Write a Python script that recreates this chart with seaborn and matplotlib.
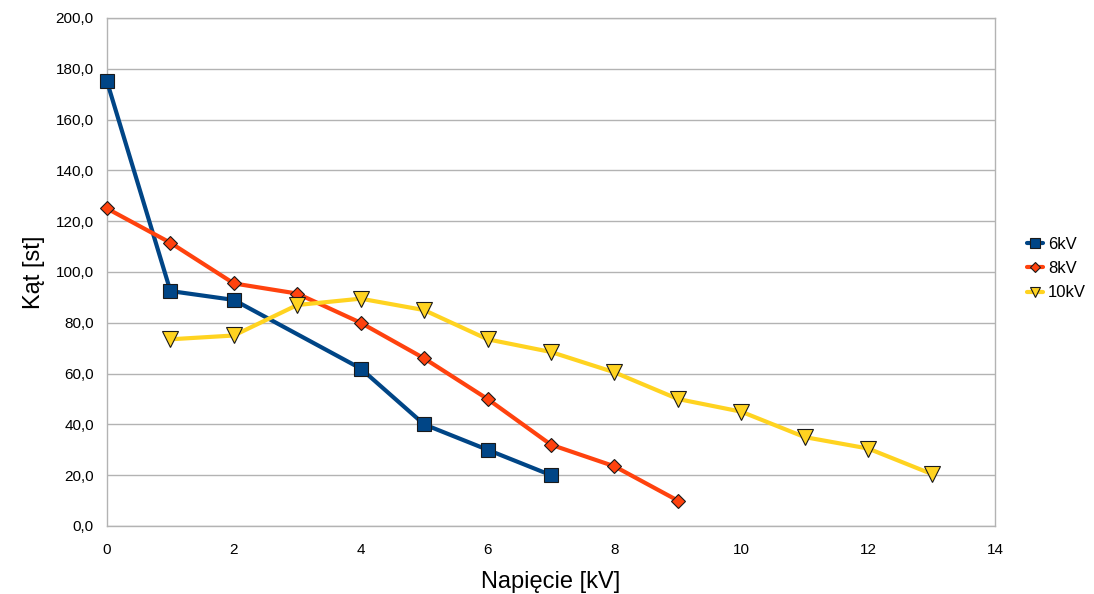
import numpy as np
import pandas as pd
import matplotlib
matplotlib.use("Agg")
import matplotlib.pyplot as plt
import seaborn as sns
from matplotlib.ticker import MultipleLocator, FuncFormatter

# Measured deflection angle versus voltage for three series
x_6kv = [0, 1, 2, 4, 5, 6, 7]
y_6kv = [175.0, 92.5, 89.0, 62.0, 40.0, 30.0, 20.0]

x_8kv = [0, 1, 2, 3, 4, 5, 6, 7, 8, 9]
y_8kv = [125.0, 111.5, 95.5, 91.5, 80.0, 66.0, 50.0, 32.0, 23.5, 10.0]

x_10kv = [1, 2, 3, 4, 5, 6, 7, 8, 9, 10, 11, 12, 13]
y_10kv = [73.5, 75.0, 87.0, 89.5, 85.0, 73.5, 68.5, 60.5, 50.0, 45.0, 35.0, 30.5, 20.5]

series_names = ["6kV", "8kV", "10kV"]

df = pd.concat([
    pd.DataFrame({"U": x_6kv, "angle": y_6kv, "seria": "6kV"}),
    pd.DataFrame({"U": x_8kv, "angle": y_8kv, "seria": "8kV"}),
    pd.DataFrame({"U": x_10kv, "angle": y_10kv, "seria": "10kV"}),
], ignore_index=True)

sns.set_theme(style="white")
plt.rcParams["font.family"] = ["Liberation Sans", "DejaVu Sans"]
plt.rcParams["text.color"] = "#000000"
plt.rcParams["axes.labelcolor"] = "#000000"

colors = {"6kV": "#004586", "8kV": "#ff420e", "10kV": "#ffd320"}
markers = {"6kV": "s", "8kV": "D", "10kV": "v"}
msizes = {"6kV": 10.5, "8kV": 7, "10kV": 11}

fig = plt.figure(figsize=(10.94, 5.94), dpi=100)
ax = fig.add_axes([0.0978, 0.1145, 0.8117, 0.8552])

for name in series_names:
    sub = df[df["seria"] == name]
    sns.lineplot(data=sub, x="U", y="angle", ax=ax, color=colors[name],
                 linewidth=3.0, marker=markers[name], markersize=msizes[name],
                 markeredgecolor="#1a1a1a", markeredgewidth=0.8,
                 label=name, sort=False, clip_on=False, zorder=3)

ax.set_xlim(0, 14)
ax.set_ylim(0, 200)
ax.xaxis.set_major_locator(MultipleLocator(2))
ax.xaxis.set_minor_locator(MultipleLocator(1))
ax.yaxis.set_major_locator(MultipleLocator(20))
ax.yaxis.set_minor_locator(MultipleLocator(10))
ax.yaxis.set_major_formatter(FuncFormatter(lambda v, p: f"{v:.1f}".replace(".", ",")))

ax.grid(axis="y", which="major", color="#b3b3b3", linewidth=1.0)
ax.set_axisbelow(True)
for s in ax.spines.values():
    s.set_color("#b3b3b3")
    s.set_linewidth(1.0)

ax.tick_params(axis="both", which="both", direction="out", color="#b3b3b3",
               labelsize=11, labelcolor="#000000")
ax.tick_params(axis="both", which="major", length=6, width=1)
ax.tick_params(axis="both", which="minor", length=6, width=1)
ax.tick_params(axis="x", pad=6)

ax.set_xlabel("Napięcie [kV]", fontsize=17, labelpad=10)
ax.set_ylabel("Kąt [st]", fontsize=17, labelpad=8)

leg = ax.legend(loc="upper left", bbox_to_anchor=(1.028, 0.582), frameon=False,
                fontsize=12, handlelength=1.0, handletextpad=0.3,
                labelspacing=0.55, borderaxespad=0, markerscale=0.7)

fig.savefig("out.png", dpi=100)
